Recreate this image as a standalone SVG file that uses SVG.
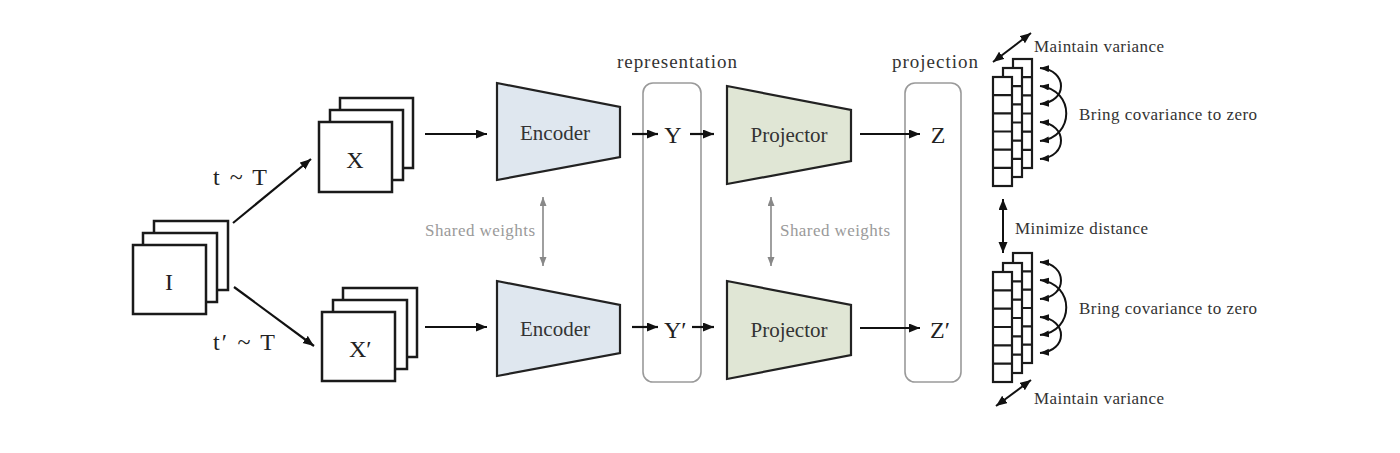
<svg xmlns="http://www.w3.org/2000/svg" width="1400" height="453" viewBox="0 0 1400 453">
<style>
  text { font-family: "Liberation Serif", "Times New Roman", serif; }
  .card { fill: #fff; stroke: #1a1a1a; stroke-width: 2.5; }
  .cell { fill: #fff; stroke: #1a1a1a; stroke-width: 2.2; }
  .enc { fill: #dfe7ef; stroke: #222; stroke-width: 2.2; stroke-linejoin: miter; }
  .proj { fill: #e0e6d5; stroke: #222; stroke-width: 2.2; }
  .grp { fill: none; stroke: #9a9a9a; stroke-width: 1.6; }
  .big { font-size: 24px; fill: #222; }
  .mod { font-size: 21px; fill: #333; }
  .lab { font-size: 19px; fill: #333; }
  .sw { font-size: 17px; fill: #9a9a9a; }
  .side { font-size: 17px; fill: #333; }
  .arr { fill: none; stroke: #111; stroke-width: 2.2; marker-end: url(#ah); }
  .darr { fill: none; stroke: #111; stroke-width: 2; marker-start: url(#ah); marker-end: url(#ah); }
  .garr { fill: none; stroke: #888; stroke-width: 1.6; marker-start: url(#gh); marker-end: url(#gh); }
  .arc { fill: none; stroke: #111; stroke-width: 2; marker-start: url(#sh); marker-end: url(#sh); }
</style>
<defs>
  <marker id="ah" markerUnits="userSpaceOnUse" markerWidth="12" markerHeight="10" refX="11" refY="4.5" orient="auto-start-reverse">
    <path d="M0,0 L11,4.5 L0,9 z" fill="#111"/>
  </marker>
  <marker id="gh" markerUnits="userSpaceOnUse" markerWidth="10" markerHeight="8" refX="9" refY="3.5" orient="auto-start-reverse">
    <path d="M0,0 L9,3.5 L0,7 z" fill="#888"/>
  </marker>
  <marker id="sh" markerUnits="userSpaceOnUse" markerWidth="10" markerHeight="8" refX="9" refY="3.5" orient="auto-start-reverse">
    <path d="M0,0 L9,3.5 L0,7 z" fill="#111"/>
  </marker>
</defs>
<rect width="1400" height="453" fill="#fff"/>

<g id="input-I">
  <rect class="card" x="154" y="221" width="74" height="69"/>
  <rect class="card" x="143" y="233" width="74" height="69"/>
  <rect class="card" x="133" y="245" width="73" height="69"/>
  <text class="big" x="169" y="290" text-anchor="middle">I</text>
</g>

<g id="view-X">
  <rect class="card" x="340" y="98" width="73" height="70"/>
  <rect class="card" x="330" y="110" width="73" height="70"/>
  <rect class="card" x="319" y="122" width="73" height="70"/>
  <text class="big" x="355" y="168" text-anchor="middle">X</text>
</g>

<g id="view-X-prime">
  <rect class="card" x="343" y="288" width="74" height="69"/>
  <rect class="card" x="333" y="300" width="74" height="69"/>
  <rect class="card" x="322" y="312" width="73" height="69"/>
  <text class="big" x="349" y="357">X′</text>
</g>

<g id="encoder-top">
  <polygon class="enc" points="497,83 620,107 620,157 497,180"/>
  <text class="mod" x="555" y="140" text-anchor="middle">Encoder</text>
</g>
<g id="encoder-bottom">
  <polygon class="enc" points="497,281 620,305 620,353 497,376"/>
  <text class="mod" x="555" y="336" text-anchor="middle">Encoder</text>
</g>

<g id="representation">
  <rect class="grp" x="643" y="83" width="58" height="299" rx="10"/>
  <text class="lab" x="677" y="68" text-anchor="middle" textLength="120">representation</text>
  <text class="big" x="673" y="143" text-anchor="middle">Y</text>
  <text class="big" x="664" y="338">Y′</text>
</g>

<g id="projector-top">
  <polygon class="proj" points="727,86 851,110 851,161 727,184"/>
  <text class="mod" x="789" y="142" text-anchor="middle">Projector</text>
</g>
<g id="projector-bottom">
  <polygon class="proj" points="727,281 851,305 851,355 727,379"/>
  <text class="mod" x="789" y="337" text-anchor="middle">Projector</text>
</g>

<g id="projection">
  <rect class="grp" x="905" y="83" width="56" height="299" rx="10"/>
  <text class="lab" x="935" y="68" text-anchor="middle" textLength="86">projection</text>
  <text class="big" x="938" y="143" text-anchor="middle">Z</text>
  <text class="big" x="930" y="338">Z′</text>
</g>

<g id="embed-top">
  <rect class="cell" x="1013" y="59" width="19" height="109"/>
  <path class="cell" d="M1013,77.2h19M1013,95.3h19M1013,113.5h19M1013,131.7h19M1013,149.8h19"/>
  <rect class="cell" x="1003" y="68" width="19" height="109"/>
  <path class="cell" d="M1003,86.2h19M1003,104.3h19M1003,122.5h19M1003,140.7h19M1003,158.8h19"/>
  <rect class="cell" x="993" y="77" width="19" height="109"/>
  <path class="cell" d="M993,95.2h19M993,113.3h19M993,131.5h19M993,149.7h19M993,167.8h19"/>
  <text class="side" x="1034" y="52" textLength="130">Maintain  variance</text>
  <text class="side" x="1079" y="120" textLength="178">Bring covariance  to zero</text>
</g>

<g id="embed-bottom">
  <rect class="cell" x="1013" y="253" width="19" height="110"/>
  <path class="cell" d="M1013,271.3h19M1013,289.7h19M1013,308h19M1013,326.3h19M1013,344.7h19"/>
  <rect class="cell" x="1003" y="263" width="19" height="110"/>
  <path class="cell" d="M1003,281.3h19M1003,299.7h19M1003,318h19M1003,336.3h19M1003,354.7h19"/>
  <rect class="cell" x="993" y="272" width="19" height="110"/>
  <path class="cell" d="M993,290.3h19M993,308.7h19M993,327h19M993,345.3h19M993,363.7h19"/>
  <text class="side" x="1079" y="314" textLength="178">Bring covariance  to zero</text>
  <text class="side" x="1034" y="404" textLength="130">Maintain  variance</text>
</g>

<g id="labels">
  <text class="big" x="213" y="185" textLength="54">t ~ T</text>
  <text class="big" x="213" y="350" textLength="62">t′ ~ T</text>
  <text class="sw" x="425" y="236" textLength="110">Shared weights</text>
  <text class="sw" x="780" y="236" textLength="110">Shared weights</text>
  <text class="side" x="1015" y="234" textLength="133">Minimize distance</text>
</g>

<g id="connectors">
  <path class="arr" d="M233,223 L311,159"/>
  <path class="arr" d="M234,287 L314,346"/>
  <path class="arr" d="M425,134 L487,134"/>
  <path class="arr" d="M425,327 L487,327"/>
  <path class="arr" d="M632,134 L658,134"/>
  <path class="arr" d="M632,327 L658,327"/>
  <path class="arr" d="M690,134 L714,134"/>
  <path class="arr" d="M692,327 L714,327"/>
  <path class="arr" d="M860,134 L920,134"/>
  <path class="arr" d="M860,328 L920,328"/>
  <path class="garr" d="M543,197 L543,266"/>
  <path class="garr" d="M771,197 L771,266"/>
  <path class="darr" d="M1003,199 L1003,253"/>
  <path class="darr" d="M993,62 L1031,33"/>
  <path class="darr" d="M996,406 L1031,380"/>
  <path class="arc" d="M1040,68 C1068,70 1068,102 1040,104"/>
  <path class="arc" d="M1040,86 C1075,90 1075,137 1040,141"/>
  <path class="arc" d="M1040,122 C1068,124 1068,157 1040,159"/>
  <path class="arc" d="M1040,262 C1068,264 1068,297 1040,299"/>
  <path class="arc" d="M1040,280 C1075,284 1075,331 1040,335"/>
  <path class="arc" d="M1040,317 C1068,319 1068,351 1040,353"/>
</g>
</svg>
